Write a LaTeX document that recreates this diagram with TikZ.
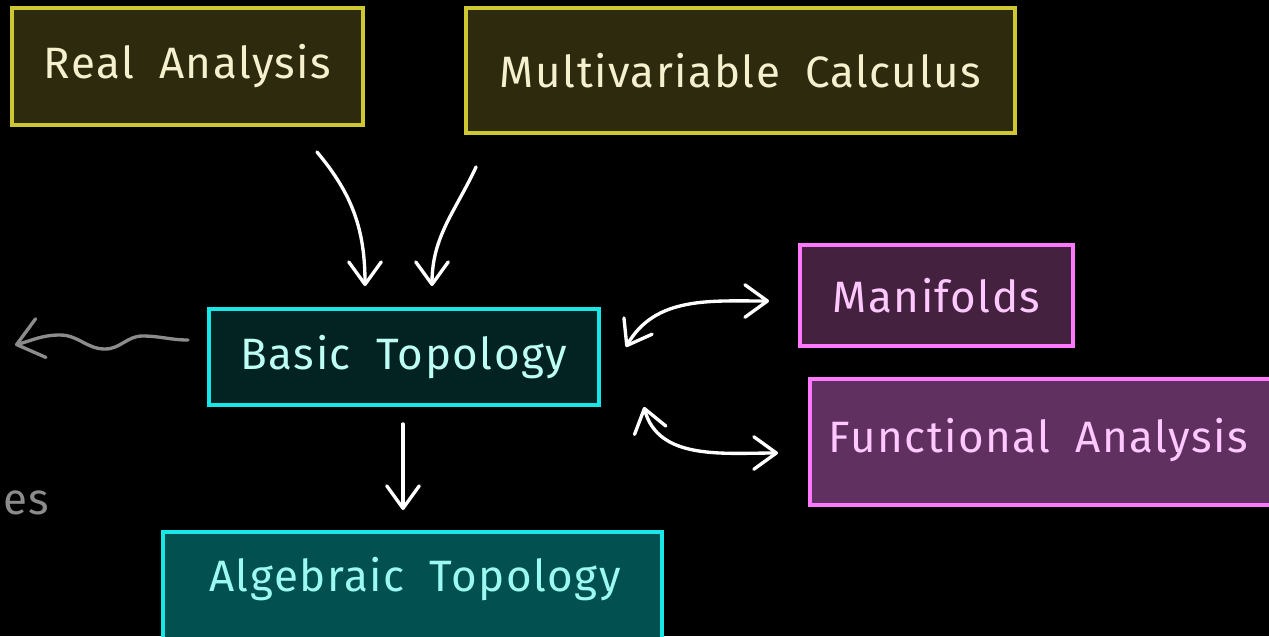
\documentclass[tikz,border=0pt]{standalone}
\usepackage{fontspec}
\setmainfont[LetterSpace=3.5,WordSpace=1.9]{Fira Sans}
\usetikzlibrary{arrows.meta,positioning}
\definecolor{fundo}{RGB}{0,0,0}
\definecolor{amareloBorda}{RGB}{205,200,50}
\definecolor{amareloFundo}{RGB}{45,42,14}
\definecolor{amareloTexto}{RGB}{245,240,205}
\definecolor{cianoBorda}{RGB}{25,230,230}
\definecolor{cianoEscuro}{RGB}{3,34,34}
\definecolor{cianoFundo}{RGB}{3,80,80}
\definecolor{cianoTexto}{RGB}{190,255,245}
\definecolor{rosaBorda}{RGB}{255,120,255}
\definecolor{rosaEscuro}{RGB}{68,33,63}
\definecolor{rosaFundo}{RGB}{96,48,96}
\definecolor{rosaTexto}{RGB}{255,200,255}
\definecolor{cinza}{RGB}{140,140,140}
\tikzset{
  base/.style={rectangle, draw=amareloBorda, line width=2.2pt, fill=amareloFundo,
               text=amareloTexto, font=\fontsize{25}{28}\selectfont, inner sep=0pt},
  topo/.style={base, draw=cianoBorda, fill=cianoEscuro, text=cianoTexto},
  topoclaro/.style={topo, fill=cianoFundo, text=cianoTexto!80!cianoBorda},
  vizinho/.style={base, draw=rosaBorda, fill=rosaEscuro, text=rosaTexto},
  vizinhoclaro/.style={vizinho, fill=rosaFundo},
  seta/.style={-{Straight Barb[length=4.5mm, width=6.5mm, line cap=round, line join=round]},
               white, line width=1.9pt, line cap=round},
  setadupla/.style={seta, {Straight Barb[length=4.5mm, width=6.5mm, line cap=round, line join=round]}-{Straight Barb[length=4.5mm, width=6.5mm, line cap=round, line join=round]}},
  setacinza/.style={-{Straight Barb[length=5mm, width=8mm, line cap=round, line join=round]},
                    cinza, line width=1.9pt, line cap=round},
}
\begin{document}
\begin{tikzpicture}
  \fill[fundo] (0,0) rectangle (25.38,-12.72);
  \useasboundingbox (0,0) rectangle (25.38,-12.72);
  \clip (0,0) rectangle (25.38,-12.72);

  \node[base, minimum width=7.02cm, minimum height=2.34cm] (real) at (3.75,-1.33) {Real Analysis};
  \node[base, minimum width=10.98cm, minimum height=2.5cm] (multi) at (14.81,-1.41) {Multivariable Calculus};
  \node[topo, minimum width=7.8cm, minimum height=1.92cm] (basic) at (8.08,-7.14) {Basic Topology};
  \node[topoclaro, minimum width=9.98cm, minimum height=2.4cm, anchor=north] (alg) at (8.25,-10.6) {};
  \node[text=cianoTexto!80!cianoBorda, font=\fontsize{25}{28}\selectfont] (algtxt) at (8.3,-11.58) {Algebraic Topology};
  \node[vizinho, minimum width=5.46cm, minimum height=2.02cm] (mani) at (18.73,-5.91) {Manifolds};
  \node[vizinhoclaro, minimum width=9.44cm, minimum height=2.52cm, anchor=west] (func) at (16.16,-8.84) {};
  \node[text=rosaTexto, font=\fontsize{25}{28}\selectfont, anchor=west] (functxt) at (16.45,-8.8) {Functional Analysis};
  \node[text=cinza, font=\fontsize{25}{28}\selectfont] (tail) at (0.52,-10.05) {es};
  \coordinate (gone) at (0.3,-6.9);

  \draw[seta] ([shift={(-0.96,-0.5)}]real.south east) to[out=-50,in=90] ([shift={(-0.78,0.42)}]basic.north);
  \draw[seta] ([shift={(0.24,-0.64)}]multi.south west) to[out=-115,in=90] ([shift={(0.56,0.42)}]basic.north);
  \draw[seta] ([shift={(-0.02,-0.34)}]basic.south) -- ([shift={(-0.19,0.4)}]alg.north);
  \draw[setadupla] ([shift={(0.5,0.2)}]basic.east) to[out=60,in=180] ([shift={(-0.58,-0.11)}]mani.west);
  \draw[setadupla] ([shift={(0.86,0)}]basic.south east) to[out=-75,in=180] ([shift={(-0.6,-0.22)}]func.west);
  \draw[setacinza] ([shift={(-0.38,0.34)}]basic.west) to[out=180,in=0] (2.85,-6.72)
        to[out=180,in=0] (2.1,-6.98) to[out=180,in=0] (1.2,-6.7) to[out=180,in=15] (gone);
\end{tikzpicture}
\end{document}
